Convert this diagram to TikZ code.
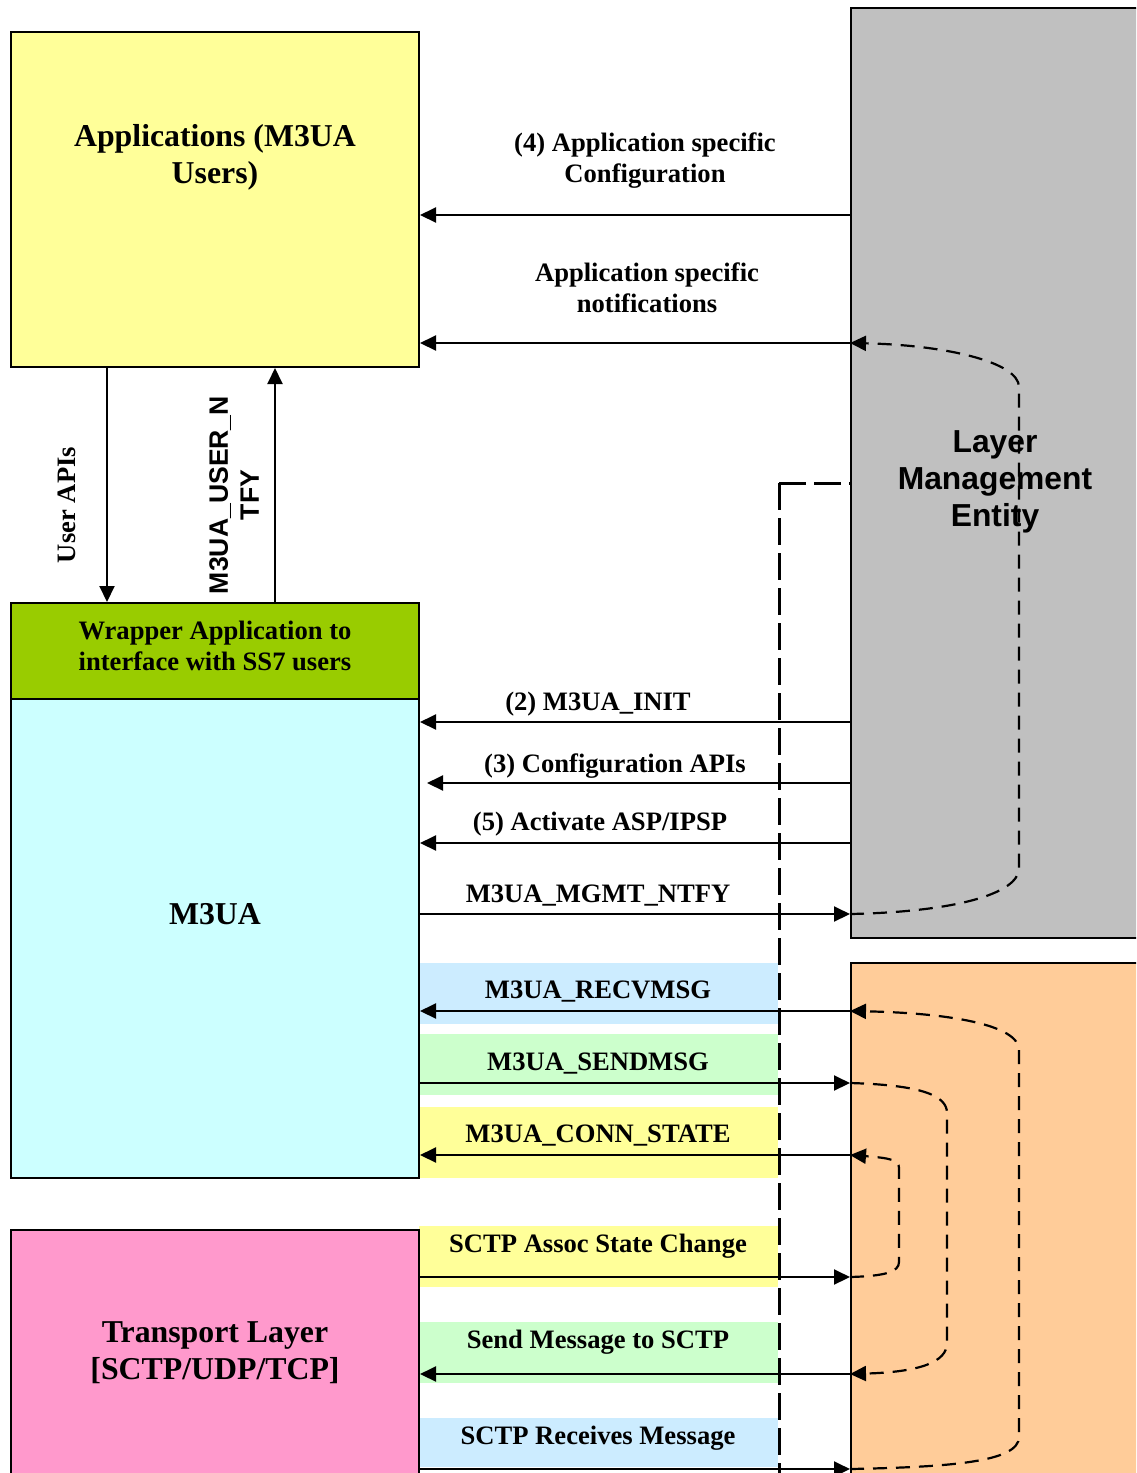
\documentclass[tikz,border=0pt]{standalone}
\usepackage{fontspec}
\setmainfont{Liberation Serif}
\setsansfont{Liberation Sans}
\usetikzlibrary{arrows.meta}
\definecolor{appyellow}{HTML}{FFFF99}
\definecolor{wrapgreen}{HTML}{99CC00}
\definecolor{m3uacyan}{HTML}{CCFFFF}
\definecolor{transpink}{HTML}{FF99CC}
\definecolor{lmegray}{HTML}{C0C0C0}
\definecolor{sockorange}{HTML}{FFCC99}
\definecolor{bandblue}{HTML}{CCECFF}
\definecolor{bandgreen}{HTML}{CCFFCC}
\definecolor{bandyellow}{HTML}{FFFF99}
\newcommand\lblfont{\fontsize{13.3}{15.5}\selectfont\bfseries}
\newcommand\bigfont{\fontsize{15.9}{18.5}\selectfont\bfseries}
\tikzset{
box/.style={draw=black,line width=1pt,inner sep=0pt,align=center,font=\bigfont},
band/.style={inner sep=0pt,minimum width=179.5pt,minimum height=30.5pt},
lbl/.style={font=\lblfont,align=center,inner sep=1pt},
arr/.style={-{Triangle[length=8pt,width=7.5pt]},line width=1pt},
echo/.style={arr,line width=1.1pt,dash pattern=on 7pt off 4.5pt},
guide/.style={line width=1.5pt,dash pattern=on 13.5pt off 4pt}}

\begin{document}
\begin{tikzpicture}[x=0.5pt,y=-0.5pt]
\clip (0,0) rectangle (1136,1473);
% coloured bands behind the message names
\node[band,fill=bandblue] (recvband) at (598.5,993.5) {};
\node[band,fill=bandgreen] (sendband) at (598.5,1064.5) {};
\node[band,fill=bandyellow,minimum height=35.5pt] (connband) at (598.5,1142.5) {};
\node[band,fill=bandyellow] (assocband) at (598.5,1256.5) {};
\node[band,fill=bandgreen] (sctpsendband) at (598.5,1352.5) {};
\node[band,fill=bandblue,minimum height=24.5pt] (sctprecvband) at (598.5,1442.5) {};
% blocks
\node[box,fill=appyellow,minimum width=204pt,minimum height=167.5pt] (app) at (215,199.5) {};
\node[box,fill=wrapgreen,minimum width=204pt,minimum height=48pt] (wrap) at (215,651) {};
\node[box,fill=m3uacyan,minimum width=204pt,minimum height=239.5pt] (m3ua) at (215,938.5) {};
\node[box,fill=transpink,minimum width=204pt,minimum height=123pt] (trans) at (215,1353) {Transport Layer\\{[SCTP/UDP/TCP]}};
\node[box,fill=lmegray,minimum width=144pt,minimum height=465pt] (lme) at (995,473) {};
\node[box,fill=sockorange,minimum width=144pt,minimum height=258.5pt] (sock) at (995,1221.5) {};
\node[font=\bigfont,align=center] (apptxt) at (215,157) {Applications (M3UA\\Users)};
\node[font=\lblfont,align=center] (wraptxt) at (215,646) {Wrapper Application to\\interface with SS7 users};
\node[font=\bigfont] (m3uatxt) at (215,914) {M3UA};
\node[font={\sffamily\bigfont},align=center] (lmetxt) at (995,482) {Layer\\Management\\Entity};
% user side
\draw[arr] (app.south -| 107,0) -- (wrap.north -| 107,0);
\draw[arr] (wrap.north -| 275,0) -- (app.south -| 275,0);
\node[lbl,rotate=90] (userapi) at (67,505) {User APIs};
\node[lbl,font={\sffamily\lblfont},rotate=90] (userntfy) at (234,495) {M3UA\_USER\_N\\TFY};
% management side
\node[lbl] (cfglbl) at (645,161) {(4) Application specific\\Configuration};
\node[lbl] (notilbl) at (647,288) {Application specific\\notifications};
\node[lbl] (initlbl) at (598,704) {(2) M3UA\_INIT};
\node[lbl] (apilbl) at (615,766) {(3) Configuration APIs};
\node[lbl] (actlbl) at (600,824) {(5) Activate ASP/IPSP};
\node[lbl] (mgmtlbl) at (598,896) {M3UA\_MGMT\_NTFY};
\draw[arr] (lme.west |- 0,215) -- (app.east |- 0,215);
\draw[arr] (lme.west |- 0,343) -- (app.east |- 0,343);
\draw[arr] (lme.west |- 0,722) -- (m3ua.east |- 0,722);
\draw[arr,shorten >=3.5pt] (lme.west |- 0,783) -- (m3ua.east |- 0,783);
\draw[arr] (lme.west |- 0,843) -- (m3ua.east |- 0,843);
\draw[arr] (m3ua.east |- 0,914) -- (lme.west |- 0,914);
\draw[echo] (lme.west |- 0,914) .. controls (950,912) and (1019,895) .. (1019,868) -- (1019,387) .. controls (1019,362) and (945,345) .. (lme.west |- 0,343);
% data side
\node[lbl] (recvlbl) at (598,992) {M3UA\_RECVMSG};
\node[lbl] (sendlbl) at (598,1064) {M3UA\_SENDMSG};
\node[lbl] (connlbl) at (598,1136) {M3UA\_CONN\_STATE};
\node[lbl] (assoclbl) at (598,1246) {SCTP Assoc State Change};
\node[lbl] (sctpsendlbl) at (598,1342) {Send Message to SCTP};
\node[lbl] (sctprecvlbl) at (598,1438) {SCTP Receives Message};
\draw[arr] (sock.west |- 0,1011) -- (m3ua.east |- 0,1011);
\draw[arr] (m3ua.east |- 0,1083) -- (sock.west |- 0,1083);
\draw[arr] (sock.west |- 0,1155) -- (m3ua.east |- 0,1155);
\draw[arr] (trans.east |- 0,1277) -- (sock.west |- 0,1277);
\draw[arr] (sock.west |- 0,1374) -- (trans.east |- 0,1374);
\draw[arr] (trans.east |- 0,1469) -- (sock.west |- 0,1469);
\draw[echo] (sock.west |- 0,1469) .. controls (950,1467) and (1019,1462) .. (1019,1437) -- (1019,1050) .. controls (1019,1025) and (950,1013) .. (sock.west |- 0,1011);
\draw[echo] (sock.west |- 0,1083) .. controls (920,1085) and (947,1095) .. (947,1113) -- (947,1343) .. controls (947,1362) and (920,1372) .. (sock.west |- 0,1374);
\draw[echo] (sock.west |- 0,1277) .. controls (885,1276) and (899,1272) .. (899,1262) -- (899,1168) .. controls (899,1160) and (890,1158) .. (sock.west |- 0,1155);
% divider
\coordinate (guidetop) at (779,483);
\coordinate (guideend) at (779,1480);
\draw[guide] (guidetop) -- (lme.west |- guidetop) ++(-8,0);
\draw[guide] (guidetop) -- (guideend);
\end{tikzpicture}
\end{document}
